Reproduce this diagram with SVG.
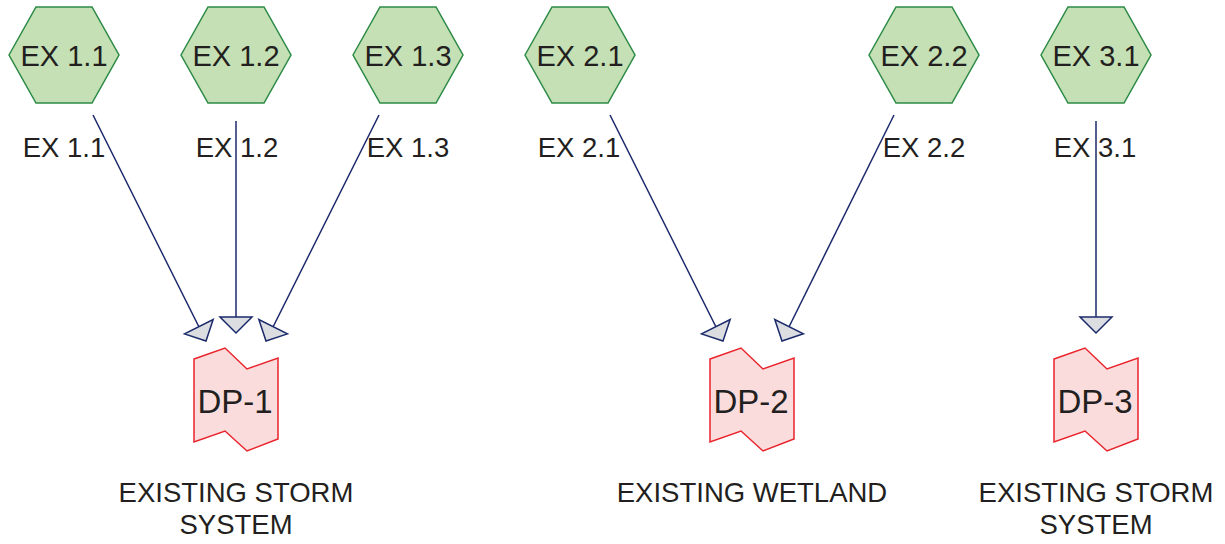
<svg xmlns="http://www.w3.org/2000/svg" xmlns:xlink="http://www.w3.org/1999/xlink" width="1225" height="544" viewBox="0 0 1225 544">
<style>
.hex{fill:#c5e0b4;stroke:#2b8a46;stroke-width:1.5}
.dp{fill:#fbdcdc;stroke:#e8232b;stroke-width:1.5}
.t{font-family:"Liberation Sans",Arial,sans-serif;fill:#231f20;text-anchor:middle}
.ht{font-size:29px}
.lt{font-size:27.5px}
.dt{font-size:33px}
.bt{font-size:27.5px}
.c{stroke:#1b2a6b;stroke-width:1.5;fill:none;marker-end:url(#arr)}
</style>
<defs>
<polygon id="hexshape" points="-55,0 -28,-48 28,-48 55,0 28,48 -28,48"/>
<path id="dpshape" d="M-42,-41 L-11,-52 L11,-31 L42,-42 L42,39 L11,51 L-11,31 L-42,42 Z"/>
<marker id="arr" viewBox="-1 -17 18 34" refX="16" refY="0" markerWidth="18" markerHeight="34" markerUnits="userSpaceOnUse" orient="auto" overflow="visible">
<path d="M0,-16 L16,0 L0,16 Z" fill="#dcdde1" stroke="#1b2a6b" stroke-width="1.5" stroke-linejoin="miter"/>
</marker>
</defs>
<g id="connectors">
<line class="c" x1="93" y1="115" x2="206" y2="341"/>
<line class="c" x1="236" y1="121" x2="236" y2="333"/>
<line class="c" x1="379" y1="115" x2="266" y2="341"/>
<line class="c" x1="610" y1="115" x2="723" y2="341"/>
<line class="c" x1="894" y1="115" x2="782" y2="341"/>
<line class="c" x1="1096" y1="121" x2="1096" y2="333"/>
<text class="t lt" x="64" y="157">EX 1.1</text>
<text class="t lt" x="237" y="157">EX 1.2</text>
<text class="t lt" x="408" y="157">EX 1.3</text>
<text class="t lt" x="579" y="157">EX 2.1</text>
<text class="t lt" x="924" y="157">EX 2.2</text>
<text class="t lt" x="1095" y="157">EX 3.1</text>
</g>
<g id="ex11" transform="translate(64,55)"><use xlink:href="#hexshape" class="hex"/><text class="t ht" x="0" y="11">EX 1.1</text></g>
<g id="ex12" transform="translate(236,55)"><use xlink:href="#hexshape" class="hex"/><text class="t ht" x="0" y="11">EX 1.2</text></g>
<g id="ex13" transform="translate(408,55)"><use xlink:href="#hexshape" class="hex"/><text class="t ht" x="0" y="11">EX 1.3</text></g>
<g id="ex21" transform="translate(580,55)"><use xlink:href="#hexshape" class="hex"/><text class="t ht" x="0" y="11">EX 2.1</text></g>
<g id="ex22" transform="translate(924,55)"><use xlink:href="#hexshape" class="hex"/><text class="t ht" x="0" y="11">EX 2.2</text></g>
<g id="ex31" transform="translate(1096,55)"><use xlink:href="#hexshape" class="hex"/><text class="t ht" x="0" y="11">EX 3.1</text></g>
<g id="dp1" transform="translate(236,400)"><use xlink:href="#dpshape" class="dp"/><text class="t dt" x="-1" y="13">DP-1</text>
<text class="t bt" x="0" y="102">EXISTING STORM</text><text class="t bt" x="0" y="134">SYSTEM</text></g>
<g id="dp2" transform="translate(752,400)"><use xlink:href="#dpshape" class="dp"/><text class="t dt" x="-1" y="13">DP-2</text>
<text class="t bt" x="0" y="102">EXISTING WETLAND</text></g>
<g id="dp3" transform="translate(1096,400)"><use xlink:href="#dpshape" class="dp"/><text class="t dt" x="-1" y="13">DP-3</text>
<text class="t bt" x="0" y="102">EXISTING STORM</text><text class="t bt" x="0" y="134">SYSTEM</text></g>
</svg>
